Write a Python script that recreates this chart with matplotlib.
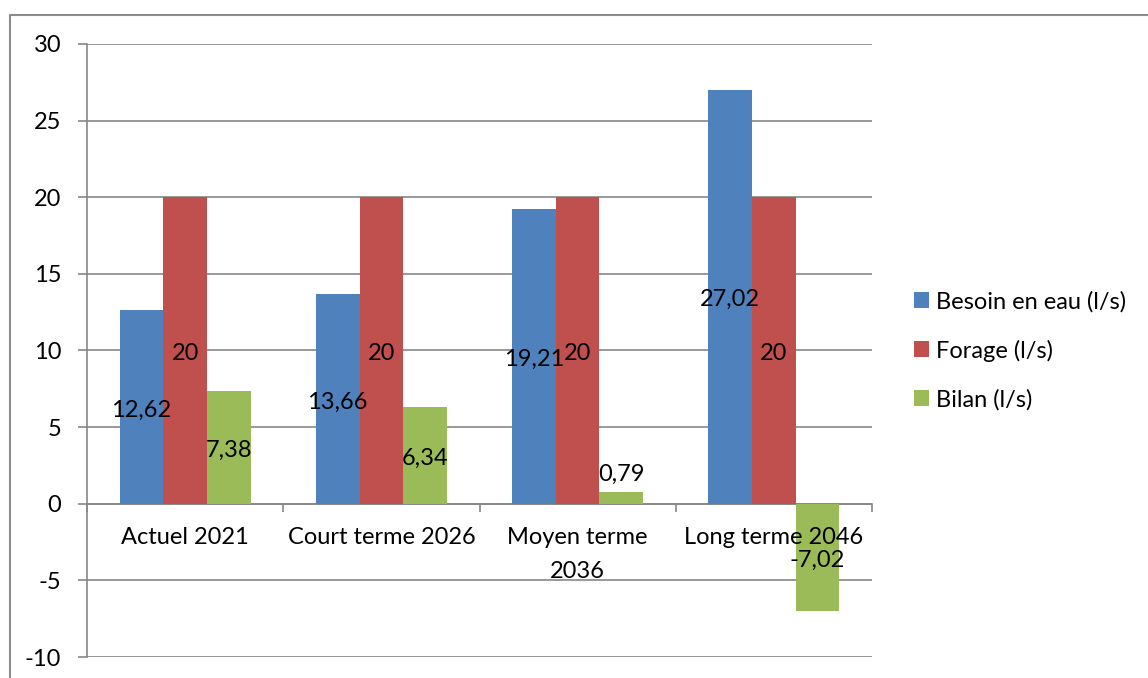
import matplotlib.pyplot as plt
import numpy as np

categories = ["Actuel 2021", "Court terme 2026", "Moyen terme\n2036", "Long terme 2046"]
besoin = [12.62, 13.66, 19.21, 27.02]
forage = [20, 20, 20, 20]
bilan = [7.38, 6.34, 0.79, -7.02]
series_names = ["Besoin en eau (l/s)", "Forage (l/s)", "Bilan (l/s)"]
colors = ["#4F81BD", "#C0504D", "#9BBB59"]

plt.rcParams['font.family'] = ['Lato', 'DejaVu Sans']
plt.rcParams['font.size'] = 17
plt.rcParams['axes.unicode_minus'] = False

fig = plt.figure(figsize=(11.48, 6.78), dpi=100)
ax = fig.add_axes([87 / 1148, 1 - 657 / 678, (872 - 87) / 1148, (657 - 44) / 678])

grid_c = "#878787"
x = np.arange(len(categories))
w = 1 / 4.5

for i, (vals, name, c) in enumerate(zip([besoin, forage, bilan], series_names, colors)):
    pos = x + (i - 1) * w
    ax.bar(pos, vals, width=w, color=c, label=name, zorder=3)
    for p, v in zip(pos, vals):
        txt = f"{v:g}".replace(".", ",")
        if v == 0.79:
            ax.text(p, v + 1.15, txt, ha="center", va="center", zorder=4)
        else:
            ax.text(p, v / 2 - 0.2, txt, ha="center", va="center", zorder=4)

ax.set_xlim(-0.5, 3.5)
ax.set_ylim(-10, 30)
ax.set_yticks(range(-10, 31, 5))
ax.yaxis.grid(True, color=grid_c, linewidth=1.2, zorder=0)

ax.set_xticks(np.arange(-0.5, 4, 1))
ax.set_xticklabels([])
ax.tick_params(axis="x", which="major", length=6, width=1.2, color=grid_c, direction="out")
ax.tick_params(axis="y", length=6.5, width=1.2, color=grid_c, pad=12)
ax.xaxis.set_zorder(5)

# category labels under the zero line, drawn over the bars
for xi, cat in zip(x, categories):
    ax.annotate(cat, (xi, 0), xytext=(0, -17), textcoords="offset points",
                ha="center", va="top", linespacing=1.75, zorder=6)

ax.spines["top"].set_visible(False)
ax.spines["right"].set_visible(False)
ax.spines["bottom"].set_position(("data", 0))
ax.spines["bottom"].set_color(grid_c)
ax.spines["bottom"].set_linewidth(1.2)
ax.spines["left"].set_color(grid_c)
ax.spines["left"].set_linewidth(1.2)

ax.legend(loc="center left", bbox_to_anchor=(1.026, 0.5), frameon=False,
          handlelength=0.65, handleheight=0.65, handletextpad=0.3, labelspacing=1.15)

# chart border
fig.add_artist(plt.Line2D([10 / 1148, 10 / 1148, 1.0], [0.0, 1 - 15 / 678, 1 - 15 / 678],
                          transform=fig.transFigure, color="#8c8c8c", linewidth=1.5))

fig.savefig("out.png", dpi=100)
